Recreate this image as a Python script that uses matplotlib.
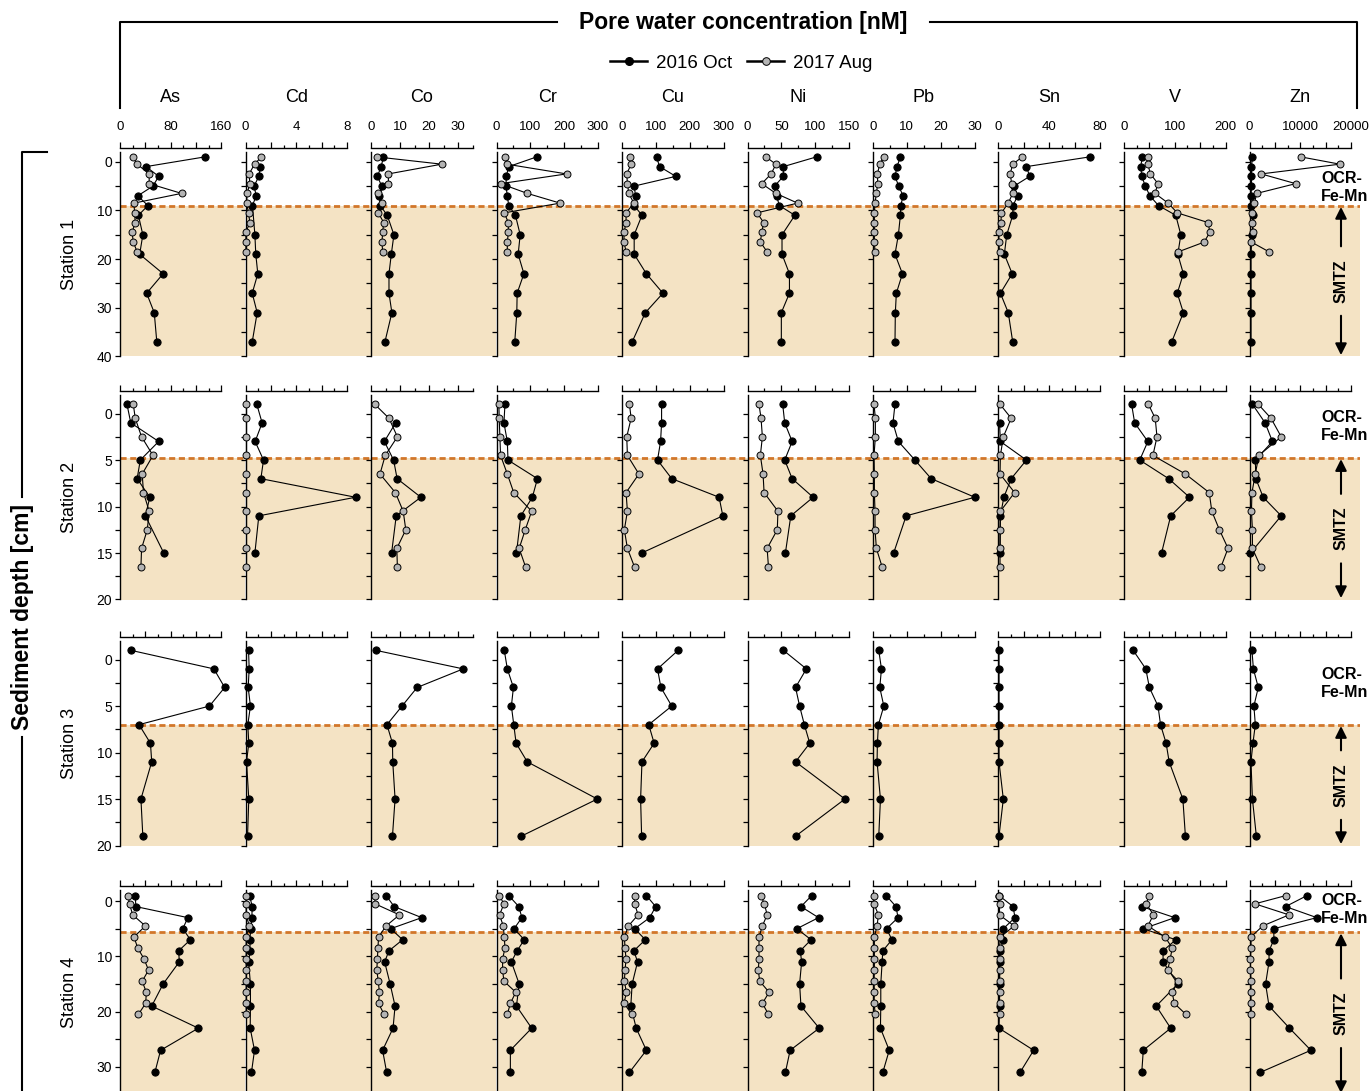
import matplotlib
matplotlib.use('Agg')
import matplotlib.pyplot as plt
import matplotlib.transforms as mtransforms
from matplotlib.lines import Line2D
from matplotlib.ticker import MultipleLocator, FixedLocator, FuncFormatter

plt.rcParams['font.family'] = ['Liberation Sans', 'DejaVu Sans']

# ---- data -------------------------------------------------------------
elements = ['As', 'Cd', 'Co', 'Cr', 'Cu', 'Ni', 'Pb', 'Sn', 'V', 'Zn']
x_max = [160, 8, 35, 300, 300, 150, 30, 80, 200, 20000]
x_step = [20, 1, 5, 50, 50, 25, 5, 10, 25, 2500]
x_labels = [[0, 80, 160], [0, 4, 8], [0, 10, 20, 30], [0, 100, 200, 300],
            [0, 100, 200, 300], [0, 50, 100, 150], [0, 10, 20, 30],
            [0, 40, 80], [0, 100, 200], [0, 10000, 20000]]

stations = ['Station 1', 'Station 2', 'Station 3', 'Station 4']
depth_max = [40, 20, 20, 35]
depth_major = [10, 5, 5, 10]
ocr_base = [9.0, 4.75, 7.0, 5.6]
ocr_label_depth = [5.3, 1.4, 2.6, 1.6]

s1_depth_oct = [-1, 1, 3, 5, 7, 9, 11, 15, 19, 23, 27, 31, 37]
s1_oct = {
    'As': [134, 41, 61, 52, 28, 44, 29, 36, 31, 68, 42, 54, 58],
    'Cd': [None, 1.18, 1.05, 0.68, 0.84, 0.55, None, 0.74, 0.81, 0.97, 0.53, 0.92, 0.53],
    'Co': [4.3, 3.5, 2.2, 3.7, 2.8, 3.2, 5.6, 7.9, 7.0, 6.2, 6.2, 7.2, 4.8],
    'Cr': [119, 36, 29, 28, 32, 36, 56, 70, 64, 81, 61, 60, 54],
    'Cu': [102, 111, 159, 36, 40, 36, 59, 36, 36, 72, 121, 69, 30],
    'Ni': [102, 53, 53, 40, 43, 47, 70, 51, 51, 62, 62, 50, 50],
    'Pb': [8.1, 7.1, 6.5, 7.6, 8.9, 8.2, 8.1, 7.5, 6.5, 8.7, 6.9, 6.6, 6.5],
    'Sn': [72, 22, 24.6, 12.3, 15, 11.5, 11.2, 6.5, 4.6, 10.8, 1.5, 7.7, 11.2],
    'V': [36, 33, 35, 42, 51, 68, 102, 112, 106, 117, 105, 117, 94],
    'Zn': [580, 390, 390, 390, 300, 300, 770, 480, 300, 300, 300, 300, 300],
}
s1_depth_aug = [-1, 0.5, 2.5, 4.5, 6.5, 8.5, 10.5, 12.5, 14.5, 16.5, 18.5]
s1_aug = {
    'As': [20, 27, 46, 46, 97, 22, 23, 24, 19, 21, 27],
    'Cd': [1.26, 0.71, 0.29, 0.34, 0.13, 0.08, 0.24, 0.34, 0.03, 0.03, 0.03],
    'Co': [1.9, 24.4, 6.0, 6.0, 2.4, 3.7, 2.5, 4.4, 4.0, 3.8, 4.0],
    'Cr': [25, 30, 207, 12, 91, 188, 23, 35, 35, 32, 32],
    'Cu': [23, 27, 14, 16, 20, 35, 12, 12, 6, 6, 12],
    'Ni': [27, 42, 35, 21, 42, 74, 14, 24, 21, 19, 29],
    'Pb': [3.2, 2.0, 1.3, 1.4, 1.0, 0.6, 0.4, 0.4, 0.4, 0.4, 0.6],
    'Sn': [18.8, 11.2, 9.2, 10.4, 11.2, 7.7, 2.3, 1.9, 0.4, 0.2, 0.8],
    'V': [48, 47, 52, 67, 61, 87, 105, 166, 169, 158, 107],
    'Zn': [10100, 17800, 2300, 9100, 1440, 960, 580, 580, 770, 385, 3850],
}

s2_depth_oct = [-1, 1, 3, 5, 7, 9, 11, 15]
s2_oct = {
    'As': [11, 17, 61, 32, 27, 47, 40, 69],
    'Cd': [0.89, 1.31, 0.76, 1.42, 1.21, 8.67, 1.05, 0.74],
    'Co': [None, 8.5, 4.6, 7.8, 9.0, 17.2, 8.7, 7.1],
    'Cr': [25, 22, 32, 34, 121, 106, 72, 59],
    'Cu': [117, 117, 114, 105, 147, 287, 298, 58],
    'Ni': [52, 55, 66, 55, 66, 97, 64, 56],
    'Pb': [6.5, 5.9, 7.5, 12.4, 17.2, 30.1, 9.8, 6.1],
    'Sn': [None, 0.8, 1.5, 22, 10, 4.2, 1.5, 1.2],
    'V': [15, 21, 47, 31, 88, 129, 92, 74],
    'Zn': [580, 3080, 4520, 1150, 1250, 2700, 6250, 190],
}
s2_depth_aug = [-1, 0.5, 2.5, 4.5, 6.5, 8.5, 10.5, 12.5, 14.5, 16.5]
s2_aug = {
    'As': [21, 24, 34, 52, 35, 37, 46, 43, 34, 33],
    'Cd': [0.05, 0.05, 0.05, 0.05, 0.05, 0.05, 0.05, 0.05, 0.05, 0.05],
    'Co': [1.3, 6.2, 9.1, 4.9, 3.1, 8.4, 11.1, 12.0, 8.9, 9.1],
    'Cr': [7, 8, 10, 12, 32, 51, 104, 85, 67, 86],
    'Cu': [22, 27, 14, 16, 50, 12, 16, 7, 16, 37],
    'Ni': [17, 20, 22, 19, 23, 24.5, 45, 44, 29, 31],
    'Pb': [0.3, 0.7, 0.7, 0.3, 0.4, 0.4, 0.6, 0.6, 1.0, 2.7],
    'Sn': [1.2, 10, 3.8, 1.5, 1.2, 12.7, 1.5, 1.2, 1.2, 1.2],
    'V': [48, 61.5, 65, 57, 121, 168, 173, 188, 205, 191],
    'Zn': [1730, 4230, 6250, 1830, 1150, 480, 385, 577, 577, 2210],
}

s3_depth_oct = [-1, 1, 3, 5, 7, 9, 11, 15, 19]
s3_oct = {
    'As': [17, 148, 165, 141, 30, 48, 50, 33, 36],
    'Cd': [0.24, 0.29, 0.21, 0.39, 0.18, 0.26, 0.08, 0.26, 0.16],
    'Co': [1.6, 31.8, 15.9, 10.7, 5.5, 7.4, 7.5, 8.3, 7.4],
    'Cr': [23, 32, 50, 44, 51, 58, 91, 298, 73],
    'Cu': [166, 105, 115, 147, 79, 95, 59, 55, 58],
    'Ni': [53, 87, 71, 77, 84, 92, 71, 144, 71],
    'Pb': [1.7, 2.5, 2.0, 3.2, 1.6, 1.3, 1.2, 2.2, 1.7],
    'Sn': [0.4, 0.4, 0.4, 0.4, 0.4, 0.4, 0.4, 3.8, 0.4],
    'V': [18, 43, 50, 67, 72, 83, 89, 116, 121],
    'Zn': [480, 770, 1730, 865, 1150, 673, 290, 577, 1350],
}

s4_depth_oct = [-1, 1, 3, 5, 7, 9, 11, 15, 19, 23, 27, 31]
s4_oct = {
    'As': [24, 25, 107, 99, 111, 92.5, 93.5, 68, 50, 123.5, 64, 55],
    'Cd': [0.32, 0.53, 0.50, 0.42, 0.34, 0.37, 0.24, 0.39, 0.39, 0.37, 0.71, 0.47],
    'Co': [5.2, 8.0, 17.5, 6.8, 10.9, 6.2, 4.7, 6.6, 8.3, 7.6, 4.0, 5.4],
    'Cr': [36, 66, 75, 52, 82, 61, 44, 67, 59, 104, 41, 41],
    'Cu': [72, 99.5, 82, 37.5, 69, 35, 46, 30, 26, 42, 72, 22],
    'Ni': [95, 79, 105, 73, 94, 78, 80, 77, 79, 106, 63, 56],
    'Pb': [3.9, 6.8, 7.4, 4.0, 5.6, 2.9, 2.7, 2.3, 2.3, 2.2, 4.8, 2.9],
    'Sn': [0.4, 11.5, 13, 3.8, 3.8, 1.2, 1.2, 0.8, 0.8, 0.4, 27.7, 17],
    'V': [None, 35, 100, 38, 102, 77, 77, 106, 63.5, 92, 38, 35],
    'Zn': [11350, 7115, 13270, 4800, 4800, 3850, 3850, 3170, 3850, 7880, 12100, 2115],
}
s4_depth_aug = [-1, 0.5, 2.5, 4.5, 6.5, 8.5, 10.5, 12.5, 14.5, 16.5, 18.5, 20.5]
s4_aug = {
    'As': [12.6, 15, 20, 40, 22, 28, 38, 45, 35, 41.5, 40.5, 29],
    'Cd': [0.05, 0.05, 0.05, 0.3, 0.05, 0.05, 0.05, 0.05, 0.05, 0.05, 0.05, 0.05],
    'Co': [1.3, 1.4, 9.8, 5.2, 2.6, 2.4, 2.2, 2.0, 2.5, 2.9, 2.6, 4.5],
    'Cr': [8, 22, 9, 20, 23, 25, 18, 18, 22, 57, 41, 32],
    'Cu': [37.5, 37.5, 47.5, 19, 7, 9, 12, 9, 7, 13, 6, 29],
    'Ni': [19.5, 25, 29, 22, 17, 17, 17, 16, 18, 32, 22, 31],
    'Pb': [0.4, 0.3, 1.6, 1.2, 0.4, 0.4, 0.4, 0.4, 0.3, 0.4, 0.3, 0.7],
    'Sn': [0.4, 0.8, 0.8, 12.3, 1.5, 0.8, 0.8, 0.8, 0.8, 0.8, 0.8, 0.8],
    'V': [49, 44, 58, 47, 81, 95, 91, 86, 107, 95, 99, 122],
    'Zn': [7200, 1060, 7790, 2600, 290, 290, 190, 190, 290, 290, 290, 385],
}

profiles = [
    [(s1_depth_oct, s1_oct), (s1_depth_aug, s1_aug)],
    [(s2_depth_oct, s2_oct), (s2_depth_aug, s2_aug)],
    [(s3_depth_oct, s3_oct), None],
    [(s4_depth_oct, s4_oct), (s4_depth_aug, s4_aug)],
]

# ---- layout (pixels) --------------------------------------------------
W, H = 1371, 1091
GREY = '#b4b4b4'
SHADE = '#f4e3c4'
ORANGE = '#d2772a'
span = 101.5                       # pixel length of 0..x_max on the top spine
row_top = [152, 395, 641, 890]
row_h = 204.5


def fig_rect(x, y, w, h):
    return [x / W, 1 - (y + h) / H, w / W, h / H]


fig = plt.figure(figsize=(W / 100, H / 100), dpi=100)

for r in range(4):
    for k, el in enumerate(elements):
        left = 120 + 125.5 * k
        width = 110 if k == 9 else 125.5
        ax = fig.add_axes(fig_rect(left, row_top[r], width, row_h))
        ax.set_xlim(0, x_max[k] * width / span)
        ax.set_ylim(depth_max[r], -2)

        ax.axhspan(ocr_base[r], depth_max[r], color=SHADE, lw=0, zorder=0)
        ax.axhline(ocr_base[r], color=ORANGE, lw=2.0, ls=(0, (2.2, 1.3)), zorder=1)

        for side in ['right', 'bottom']:
            ax.spines[side].set_visible(False)
        ax.spines['left'].set_linewidth(1.0)
        ax.spines['top'].set_linewidth(1.0)
        ax.spines['top'].set_position(('outward', 3))
        ax.spines['top'].set_bounds(0, x_max[k])

        # concentration axis on top
        ax.xaxis.tick_top()
        st = x_step[k]
        n = int(round(x_max[k] / st))
        ax.xaxis.set_major_locator(FixedLocator([i * st for i in range(0, n + 1, 2)]))
        ax.xaxis.set_minor_locator(FixedLocator([i * st for i in range(1, n + 1, 2)]))
        ax.tick_params(axis='x', which='major', direction='out', length=4, width=0.9,
                       pad=7, labelsize=9.5)
        ax.tick_params(axis='x', which='minor', direction='out', length=2.2, width=0.9)
        if r == 0:
            labs = x_labels[k]
            ax.xaxis.set_major_formatter(
                FuncFormatter(lambda v, p, labs=labs: '%d' % v if round(v) in labs else ''))
        else:
            ax.tick_params(axis='x', labeltop=False)

        # depth axis
        ax.yaxis.set_major_locator(MultipleLocator(depth_major[r]))
        ax.yaxis.set_minor_locator(MultipleLocator(depth_major[r] / 2))
        ax.tick_params(axis='y', which='both', direction='out', length=3.5, width=0.9,
                       pad=2, labelsize=10)
        if k > 0:
            ax.tick_params(axis='y', labelleft=False)

        for i, prof in enumerate(profiles[r]):
            if prof is None:
                continue
            depth, vals = prof
            pts = [(v, d) for v, d in zip(vals[el], depth) if v is not None]
            xs = [p[0] for p in pts]
            ys = [p[1] for p in pts]
            ax.plot(xs, ys, '-o', color='black', lw=0.8, ms=5.2 if i == 0 else 5.0,
                    mfc='black' if i == 0 else GREY, mec='black', mew=0.7,
                    clip_on=False, zorder=3 + i)

        if r == 0:
            fig.text((left + span / 2) / W, 1 - 98 / H, el, ha='center', va='center',
                     fontsize=13)

        if k == 9:
            tr = mtransforms.blended_transform_factory(fig.transFigure, ax.transData)
            ax.text(1321 / W, ocr_label_depth[r], 'OCR-\nFe-Mn', transform=tr,
                    ha='left', va='center', fontsize=11.5, fontweight='bold',
                    linespacing=1.25)
            yc = (ocr_base[r] + depth_max[r]) / 2
            xa = 1341 / W
            ax.text(xa, yc, 'SMTZ', transform=tr, rotation=90, ha='center',
                    va='center', fontsize=11.5, fontweight='bold')
            for tip in [ocr_base[r], depth_max[r]]:
                ax.annotate('', xy=(xa, tip), xytext=(xa, yc), xycoords=tr,
                            textcoords=tr, annotation_clip=False,
                            arrowprops=dict(arrowstyle='-|>', color='black', lw=1.5,
                                            shrinkA=25, shrinkB=1, mutation_scale=17))

    fig.text(70 / W, 1 - (row_top[r] + row_h / 2) / H, stations[r], rotation=90,
             ha='center', va='center', fontsize=13)

# ---- outer brackets, titles and legend -------------------------------
fig.text(743 / W, 1 - 22 / H, 'Pore water concentration [nM]', ha='center',
         va='center', fontsize=16.5, fontweight='bold')
fig.add_artist(Line2D([120 / W, 120 / W, 557 / W], [1 - 108 / H, 1 - 22 / H, 1 - 22 / H],
                      color='black', lw=1.5, transform=fig.transFigure))
fig.add_artist(Line2D([930 / W, 1357 / W, 1357 / W], [1 - 22 / H, 1 - 22 / H, 1 - 108 / H],
                      color='black', lw=1.5, transform=fig.transFigure))

fig.text(22 / W, 1 - 617 / H, 'Sediment depth [cm]', rotation=90, ha='center',
         va='center', fontsize=16.5, fontweight='bold')
fig.add_artist(Line2D([47 / W, 22 / W, 22 / W], [1 - 152 / H, 1 - 152 / H, 1 - 497 / H],
                      color='black', lw=1.5, transform=fig.transFigure))
fig.add_artist(Line2D([22 / W, 22 / W], [1 - 737 / H, 0], color='black', lw=1.5,
                      transform=fig.transFigure))

handles = [Line2D([], [], color='black', lw=1.8, marker='o', ms=5.5, mfc='black', mec='black'),
           Line2D([], [], color='black', lw=1.8, marker='o', ms=5.5, mfc=GREY, mec='black',
                  mew=0.7)]
fig.legend(handles, ['2016 Oct', '2017 Aug'], loc='center', ncol=2, frameon=False,
           bbox_to_anchor=(741 / W, 1 - 63 / H), fontsize=13.5, handlelength=2.0,
           handletextpad=0.45, columnspacing=0.8)

fig.savefig('out.png', dpi=100)
